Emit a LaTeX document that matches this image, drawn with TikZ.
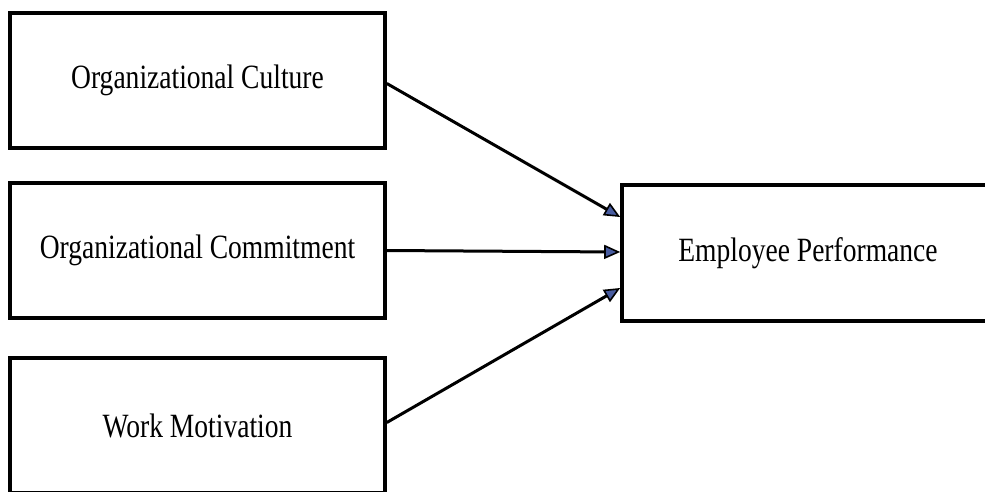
\documentclass[tikz,border=0pt]{standalone}
\usepackage{fontspec}
\setmainfont{Liberation Serif}[FakeStretch=0.81]
\usetikzlibrary{arrows.meta}
\definecolor{headblue}{RGB}{72,92,160}
\begin{document}
\begin{tikzpicture}[x=1pt,y=-1pt,
  box/.style={draw=black,line width=3.6pt,fill=white,minimum width=375pt,minimum height=135pt,inner sep=0pt,font=\fontsize{34}{36}\selectfont},
  conn/.style={line width=3pt,-{Triangle[length=16pt,width=14pt,fill=headblue,line width=1.6pt]}}]
\useasboundingbox (0,0) rectangle (985,491);
\clip (0,0) rectangle (985,491);
\fill[white] (0,0) rectangle (985,491);
\node[box] (b1) at (197.5,80.5) {Organizational Culture};
\node[box] (b2) at (197.5,250.5) {Organizational Commitment};
\node[box] (b3) at (197.5,425.5) {Work Motivation};
\node[box,minimum width=372pt,minimum height=136pt] (b4) at (808,253) {Employee Performance};
\draw[conn] ([yshift=-3pt]b1.east) -- ([yshift=36pt]b4.west);
\draw[conn] (b2.east) -- ([yshift=1pt]b4.west);
\draw[conn] ([yshift=3pt]b3.east) -- ([yshift=-35pt]b4.west);
\end{tikzpicture}
\end{document}
